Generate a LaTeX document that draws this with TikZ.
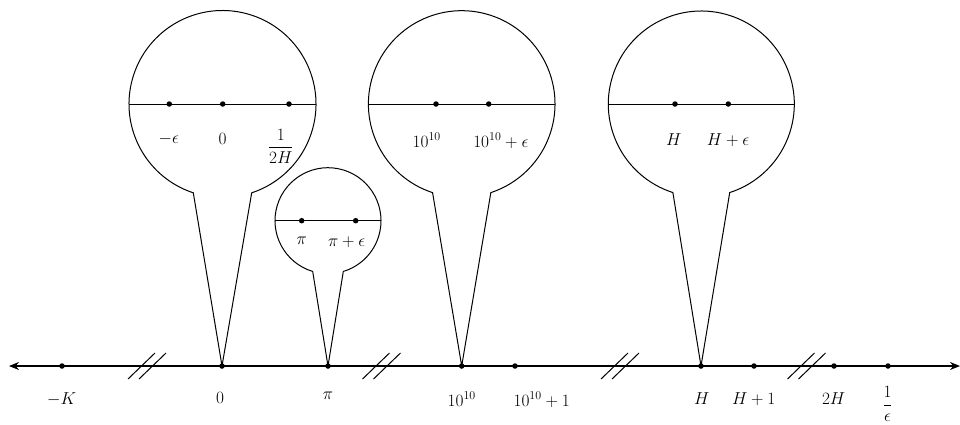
\documentclass[tikz,border=0pt]{standalone}
\usepackage{amsmath}
\usetikzlibrary{arrows.meta,calc}
\newcommand\balloonshape[4]{% tip, center, radius, half angle
  \draw[rim] (#1.center) -- ($(#2)+({270-#4}:#3)$) arc[start angle={270-#4}, end angle={-90+#4}, radius=#3] -- cycle;
  \draw[rim] ($(#2)+(-#3,0)$) -- ($(#2)+(#3,0)$);}
\newcommand\breakmark[1]{%
  \draw[brk] ($(#1)+(-5.5,0)+(-13.5,-13)$) -- ($(#1)+(-5.5,0)+(13.5,13)$);
  \draw[brk] ($(#1)+(5.5,0)+(-13.5,-13)$) -- ($(#1)+(5.5,0)+(13.5,13)$);}
\begin{document}
\begin{tikzpicture}[x=1pt,y=1pt,
  dot/.style={circle,fill=black,inner sep=0pt,minimum size=5.5pt},
  lab/.style={anchor=north,inner sep=0pt,font=\fontsize{16.5}{20}\selectfont},
  rim/.style={line width=1pt},
  axisline/.style={line width=1.2pt,{Stealth[length=10pt,width=8pt]}-{Stealth[length=10pt,width=8pt]}},
  brk/.style={line width=1pt}]
\useasboundingbox (0,0) rectangle (960,-424);
% axis
\coordinate (L) at (9,-366);
\coordinate (R) at (960,-366);
\draw[axisline] (L) -- (R);
% axis points
\node[dot] (mK) at (62,-366) {};
\node[dot] (z0) at (222,-366) {};
\node[dot] (zpi) at (328,-366) {};
\node[dot] (z10) at (461.7,-366) {};
\node[dot] (z10p) at (515,-366) {};
\node[dot] (zH) at (701,-366) {};
\node[dot] (zH1) at (754,-366) {};
\node[dot] (z2H) at (834,-366) {};
\node[dot] (zinv) at (888,-366) {};
% axis labels
\node[lab] (lmK) at (61.7,-392) {$-K$};
\node[lab] (lz0) at (220,-392) {$0$};
\node[lab] (lzpi) at (328,-392) {$\pi$};
\node[lab] (lz10) at (461.7,-392) {$10^{10}$};
\node[lab] (lz10p) at (541.7,-392) {$10^{10}+1$};
\node[lab] (lzH) at (701.7,-392) {$H$};
\node[lab] (lzH1) at (753.7,-392) {$H+1$};
\node[lab] (lz2H) at (833.7,-392) {$2H$};
\node[lab] (lzinv) at (887.5,-386.5) {$\dfrac{1}{\epsilon}$};
% breaks
\coordinate (br1) at (147,-366);
\coordinate (br2) at (381.5,-366);
\coordinate (br3) at (620,-366);
\coordinate (br4) at (806.5,-366);
\breakmark{br1}
\breakmark{br2}
\breakmark{br3}
\breakmark{br4}
% balloons
\coordinate (c1) at (222.5,-104);
\coordinate (c2) at (461.7,-104);
\coordinate (c3) at (701.3,-104);
\coordinate (c4) at (328,-220.7);
\balloonshape{z0}{c1}{93.5}{18.2}
\balloonshape{z10}{c2}{93.3}{18.2}
\balloonshape{zH}{c3}{93}{17.8}
\balloonshape{zpi}{c4}{53}{16.8}
% balloon 1
\node[dot] (b1a) at (169.3,-104) {};
\node[dot] (b1b) at (222.7,-104) {};
\node[dot] (b1c) at (289,-104) {};
\node[lab] (lb1a) at (168.8,-133) {$-\epsilon$};
\node[lab] (lb1b) at (222.7,-133) {$0$};
\node[lab] (lb1c) at (280.8,-129) {$\dfrac{1}{2H}$};
% balloon 2
\node[dot] (b2a) at (436,-104) {};
\node[dot] (b2b) at (488.7,-104) {};
\node[lab] (lb2a) at (426.7,-133) {$10^{10}$};
\node[lab] (lb2b) at (500.8,-133) {$10^{10}+\epsilon$};
% balloon 3
\node[dot] (b3a) at (675,-104) {};
\node[dot] (b3b) at (728.3,-104) {};
\node[lab] (lb3a) at (673.7,-133) {$H$};
\node[lab] (lb3b) at (728,-133) {$H+\epsilon$};
% small balloon
\node[dot] (b4a) at (301.7,-220.7) {};
\node[dot] (b4b) at (355.7,-220.7) {};
\node[lab] (lb4a) at (301.7,-237) {$\pi$};
\node[lab] (lb4b) at (346.7,-237) {$\pi+\epsilon$};
\end{tikzpicture}
\end{document}
